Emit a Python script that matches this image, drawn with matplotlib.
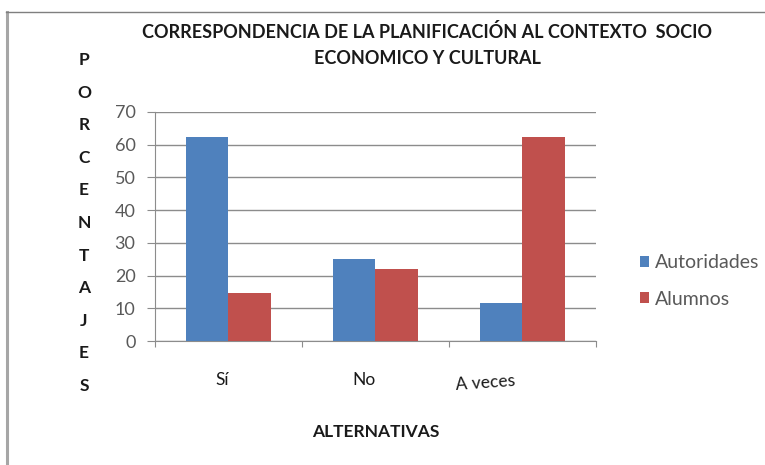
import matplotlib
matplotlib.use("Agg")
import matplotlib.pyplot as plt
from matplotlib.lines import Line2D
import numpy as np

categories = ["Sí", "No", "A veces"]
autoridades = [62.5, 25, 11.5]
alumnos = [14.7, 22, 62.5]
series_names = ["Autoridades", "Alumnos"]
y_ticks = [0, 10, 20, 30, 40, 50, 60, 70]
ylabel_letters = list("PORCENTAJES")
title_lines = ["CORRESPONDENCIA DE LA PLANIFICACIÓN AL CONTEXTO  SOCIO",
               "ECONOMICO Y CULTURAL"]

BLUE = "#4F81BD"
RED = "#C0504D"
GRID = "#8C8C8C"
TEXT = "#595959"
DARK = "#1A1A1A"

plt.rcParams["font.family"] = ["Lato", "DejaVu Sans"]

W, H = 765, 465
fig = plt.figure(figsize=(W / 100, H / 100), dpi=100)
fig.patch.set_facecolor("white")

# chart frame (left and top edge)
fig.add_artist(Line2D([7 / W, 7 / W], [0, 1 - 12 / H], transform=fig.transFigure,
                      color="#A6A6A6", lw=2.2))
fig.add_artist(Line2D([6 / W, 1], [1 - 12 / H, 1 - 12 / H], transform=fig.transFigure,
                      color="#7F7F7F", lw=1.0))

ax = fig.add_axes([155 / W, 1 - 341 / H, (596 - 155) / W, (341 - 112) / H])
x = np.arange(len(categories))
bw = 0.286
ax.bar(x - bw / 2, autoridades, bw, color=BLUE, label=series_names[0], zorder=3)
ax.bar(x + bw / 2, alumnos, bw, color=RED, label=series_names[1], zorder=3)

ax.set_xlim(-0.5, len(categories) - 0.5)
ax.set_ylim(0, 70)
ax.set_yticks(y_ticks)
ax.set_yticklabels([str(v) for v in y_ticks], fontsize=13, color=TEXT)
ax.yaxis.grid(True, color=GRID, lw=1.0, zorder=0)
ax.set_axisbelow(True)
for s in ["top", "right"]:
    ax.spines[s].set_visible(False)
ax.spines["left"].set_color(GRID)
ax.spines["bottom"].set_color(GRID)
ax.tick_params(axis="y", length=6, color=GRID, pad=8)
# category boundary ticks on the x axis
ax.set_xticks(np.arange(-0.5, len(categories), 1.0))
ax.set_xticklabels([])
ax.tick_params(axis="x", length=4, color=GRID, direction="out")

# category labels
label_dx = [-0.04, -0.08, -0.25]
label_rot = [0, 0, 4]
label_y = [-0.17, -0.17, -0.185]
for xi, name, dx, rot, ly in zip(x, categories, label_dx, label_rot, label_y):
    ax.text(xi + dx, ly, name, transform=ax.get_xaxis_transform(), ha="center",
            va="center", fontsize=12.5, color=DARK, rotation=rot)

# vertical axis title, one letter per line
top_y, step = 60, 32.6
for i, ch in enumerate(ylabel_letters):
    fig.text(84 / W, 1 - (top_y + i * step) / H, ch, ha="center", va="center",
             fontsize=12.5, fontweight="bold", color=DARK)

fig.text(427 / W, 1 - 32 / H, title_lines[0], ha="center", va="center",
         fontsize=13, fontweight="bold", color=DARK)
fig.text(427 / W, 1 - 58 / H, title_lines[1], ha="center", va="center",
         fontsize=13, fontweight="bold", color=DARK)
fig.text(376 / W, 1 - 432 / H, "ALTERNATIVAS", ha="center", va="center",
         fontsize=12.5, fontweight="bold", color=DARK)

leg = fig.legend(loc="center left", bbox_to_anchor=(622 / W, 1 - 281 / H),
                 frameon=False, fontsize=14, handlelength=0.5, handleheight=0.5,
                 handletextpad=0.3, labelspacing=1.0, labelcolor=TEXT)

fig.savefig("out.png", dpi=100, facecolor="white")
